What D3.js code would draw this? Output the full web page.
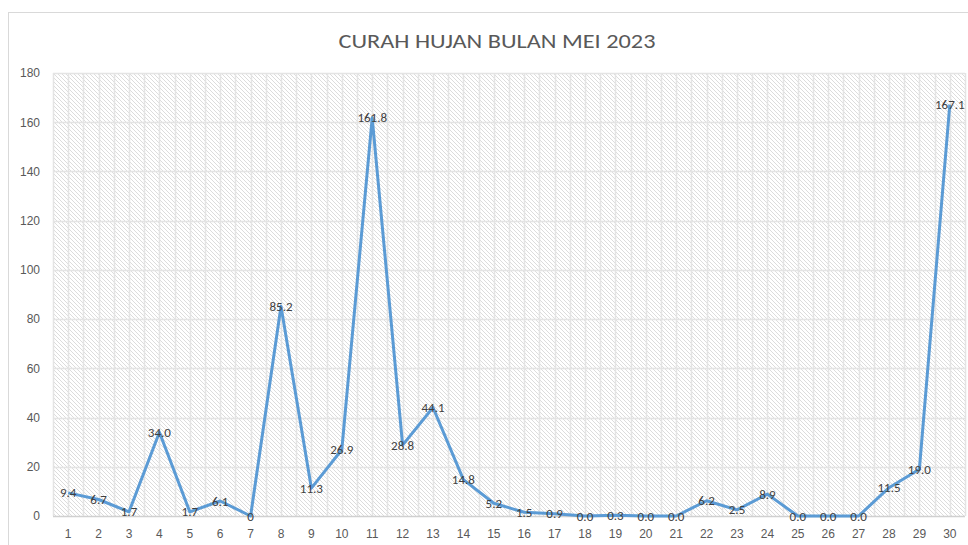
<!DOCTYPE html>
<html>
<head>
<meta charset="utf-8">
<script src="https://cdn.jsdelivr.net/npm/d3@7"></script>
<style>
  body { margin: 0; background: #fff; }
  svg { display: block; font-family: Carlito, "Liberation Sans Narrow", "Open Sans", sans-serif; }
</style>
</head>
<body>
<div id="chart"></div>
<script>
const title = "CURAH HUJAN BULAN MEI 2023";
const days = d3.range(1, 31).map(String);
const rain = [9.4, 6.7, 1.7, 34.0, 1.7, 6.1, 0, 85.2, 11.3, 26.9, 161.8, 28.8, 44.1, 14.8, 5.2,
              1.5, 0.9, 0.0, 0.3, 0.0, 0.0, 6.2, 2.5, 8.9, 0.0, 0.0, 0.0, 11.5, 19.0, 167.1];
const labels = ["9.4", "6.7", "1.7", "34.0", "1.7", "6.1", "0", "85.2", "11.3", "26.9", "161.8", "28.8", "44.1", "14.8", "5.2",
                "1.5", "0.9", "0.0", "0.3", "0.0", "0.0", "6.2", "2.5", "8.9", "0.0", "0.0", "0.0", "11.5", "19.0", "167.1"];
const yTicks = [0, 20, 40, 60, 80, 100, 120, 140, 160, 180];

function draw() {
  const width = 968, height = 545;
  const plot = {left: 53, right: 965, top: 73, bottom: 516};

  const svg = d3.select("#chart").append("svg")
    .attr("width", width).attr("height", height);

  const defs = svg.append("defs");
  const pat = defs.append("pattern")
    .attr("id", "hatch")
    .attr("patternUnits", "userSpaceOnUse")
    .attr("width", 4).attr("height", 4);
  pat.append("rect").attr("width", 4).attr("height", 4).attr("fill", "#fff");
  pat.append("path")
    .attr("d", "M-1,-1 L5,5 M-1,3 L1,5 M3,-1 L5,1")
    .attr("stroke", "#dcdcdc").attr("stroke-width", 1);

  // outer chart border
  svg.append("rect")
    .attr("x", 8.5).attr("y", 12.5)
    .attr("width", 1000).attr("height", 600)
    .attr("fill", "#fff").attr("stroke", "#d9d9d9");

  const x = d3.scaleBand().domain(days).range([plot.left, plot.right]);
  const y = d3.scaleLinear().domain([0, 180]).range([plot.bottom, plot.top]);

  svg.append("rect")
    .attr("x", plot.left).attr("y", plot.top)
    .attr("width", plot.right - plot.left).attr("height", plot.bottom - plot.top)
    .attr("fill", "url(#hatch)");

  // vertical gridlines at band edges and centres
  const vLines = [];
  days.forEach(d => { vLines.push(x(d)); vLines.push(x(d) + x.bandwidth() / 2); });
  vLines.push(plot.right);
  svg.append("g").selectAll("line").data(vLines).join("line")
    .attr("x1", d => Math.round(d) + 0.5).attr("x2", d => Math.round(d) + 0.5)
    .attr("y1", plot.top).attr("y2", plot.bottom)
    .attr("stroke", "#e4e4e4").attr("stroke-width", 1.5);

  svg.append("g").selectAll("line").data(yTicks).join("line")
    .attr("x1", plot.left).attr("x2", plot.right)
    .attr("y1", d => Math.round(y(d)) + 0.5).attr("y2", d => Math.round(y(d)) + 0.5)
    .attr("stroke", d => d === 0 ? "#d0d0d0" : "#e4e4e4").attr("stroke-width", 1.5);

  // y axis labels
  const yAxis = svg.append("g")
    .attr("transform", `translate(${plot.left - 13},0)`)
    .call(d3.axisLeft(y).tickValues(yTicks).tickSize(0).tickPadding(0));
  yAxis.select(".domain").remove();
  yAxis.selectAll("text").attr("fill", "#595959").style("font-size", "12px");

  // x axis labels
  const xAxis = svg.append("g")
    .attr("transform", `translate(0,${plot.bottom})`)
    .call(d3.axisBottom(x).tickSize(0).tickPadding(13));
  xAxis.select(".domain").remove();
  xAxis.selectAll("text").attr("fill", "#595959").style("font-size", "12px");

  const line = d3.line()
    .x((d, i) => x(days[i]) + x.bandwidth() / 2)
    .y(d => y(d));

  svg.append("path")
    .datum(rain)
    .attr("d", line)
    .attr("fill", "none")
    .attr("stroke", "#5b9bd5")
    .attr("stroke-width", 3)
    .attr("stroke-linejoin", "round");

  svg.append("g").selectAll("text").data(rain).join("text")
    .attr("x", (d, i) => x(days[i]) + x.bandwidth() / 2)
    .attr("y", d => y(d))
    .attr("dy", "0.35em")
    .attr("text-anchor", "middle")
    .attr("fill", "#404040")
    .style("font-size", "13px")
    .text((d, i) => labels[i]);

  svg.append("text")
    .attr("x", 497).attr("y", 48)
    .attr("text-anchor", "middle")
    .attr("fill", "#595959")
    .style("font-size", "20px")
    .attr("textLength", 317)
    .attr("lengthAdjust", "spacingAndGlyphs")
    .text(title);
}
draw();
</script>
</body>
</html>
